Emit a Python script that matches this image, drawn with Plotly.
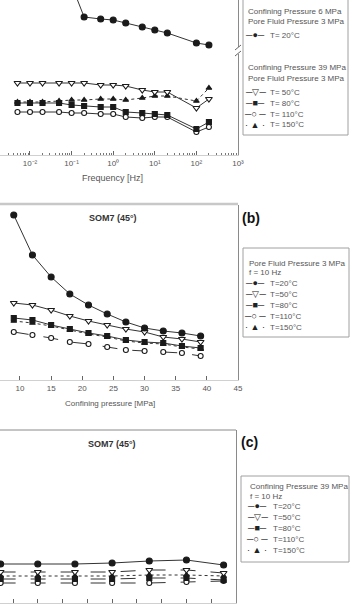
import plotly.graph_objects as go

W, H = 358, 609
FONT = "Liberation Sans, Arial, sans-serif"

# ---------------- data ----------------
# Panel (a): frequency sweep
freq = [0.005, 0.01, 0.02, 0.05, 0.1, 0.2, 0.5, 1, 2, 5, 10, 20, 100, 200]
freq_20 = [0.1, 0.2, 0.5, 1, 2, 5, 10, 20, 100, 200]
a_T20 = [17.0, 13.8, 13.6, 13.5, 13.2, 12.8, 12.5, 12.2, 11.2, 11.0]
a_T50 = [7.2, 7.2, 7.2, 7.2, 7.2, 7.2, 7.0, 7.0, 6.9, 6.5, 6.3, 6.3, 4.7, 5.6]
a_T80 = [5.2, 5.2, 5.2, 5.2, 5.0, 4.9, 4.8, 4.8, 4.3, 4.2, 4.1, 4.0, 2.6, 3.3]
a_T110 = [4.3, 4.3, 4.3, 4.3, 4.2, 4.2, 4.1, 4.1, 3.8, 3.7, 3.8, 3.8, 2.3, 2.8]
a_T150 = [5.3, 5.3, 5.3, 5.4, 5.5, 5.5, 5.6, 5.6, 5.5, 5.7, 5.9, 5.9, 5.4, 6.7]
freq_ticks = [0.01, 0.1, 1, 10, 100, 1000]
freq_ticktext = ["10⁻²", "10⁻¹", "10⁰", "10¹", "10²", "10³"]

# Panel (b): confining pressure sweep
pconf = [9, 12, 15, 18, 21, 24, 27, 30, 33, 36, 39]
b_T20 = [16.5, 12.5, 10.3, 8.6, 7.5, 6.6, 5.8, 5.2, 4.9, 4.7, 4.4]
b_T50 = [7.7, 7.5, 7.0, 6.4, 5.9, 5.5, 5.1, 4.8, 4.3, 4.1, 3.8]
b_T80 = [6.2, 6.0, 5.5, 5.1, 4.7, 4.4, 4.0, 3.8, 3.7, 3.4, 3.2]
b_T110 = [4.8, 4.5, 4.2, 3.8, 3.6, 3.3, 3.0, 2.9, 2.8, 2.7, 2.4]
b_T150 = [5.9, 5.7, 5.4, 5.0, 4.6, 4.3, 3.9, 3.7, 3.6, 3.3, 3.1]
pconf_ticks = [10, 15, 20, 25, 30, 35, 40, 45]

# Panel (c)
xc = [3, 6, 9, 12, 15, 18, 21]
c_T20 = [3.9, 3.9, 3.9, 4.0, 4.2, 4.3, 3.8]
c_T50 = [3.1, 3.1, 3.1, 3.1, 3.3, 3.3, 3.0]
c_T80 = [2.4, 2.4, 2.4, 2.4, 2.5, 2.5, 2.3]
c_T110 = [2.0, 2.0, 2.0, 2.0, 2.0, 2.1, 2.2]
c_T150 = [2.7, 2.7, 2.7, 2.7, 2.8, 2.8, 2.7]
xc_ticks = [2, 4, 6, 8, 10, 12, 14, 16, 18, 20, 22]

series_labels = ["T=20°C", "T=50°C", "T=80°C", "T=110°C", "T=150°C"]

# ---------------- helpers ----------------
def px(x):
    return x / W

def py(y):
    return 1 - y / H

STYLE = {
    "T20": dict(symbol="circle", fill="#1a1a1a", dash="solid", size=6),
    "T50": dict(symbol="triangle-down", fill="white", dash="solid", size=6),
    "T80": dict(symbol="square", fill="#1a1a1a", dash="solid", size=5),
    "T110": dict(symbol="circle", fill="white", dash="dash", size=5),
    "T150": dict(symbol="triangle-up", fill="#1a1a1a", dash="dot", size=5),
}

fig = go.Figure()

def add(x, y, key, xa, ya, dash=None):
    s = STYLE[key]
    fig.add_trace(go.Scatter(
        x=x, y=y, mode="lines+markers", xaxis=xa, yaxis=ya, showlegend=False,
        line=dict(color="#333333", width=1, dash=dash or s["dash"]),
        marker=dict(symbol=s["symbol"], size=s["size"], color=s["fill"],
                    line=dict(color="#1a1a1a", width=1.1)),
    ))

# panel a
add(freq, a_T150, "T150", "x", "y")
add(freq, a_T110, "T110", "x", "y", dash="solid")
add(freq, a_T80, "T80", "x", "y")
add(freq, a_T50, "T50", "x", "y")
add(freq_20, a_T20, "T20", "x", "y")
# panel b
add(pconf, b_T150, "T150", "x2", "y2")
add(pconf, b_T110, "T110", "x2", "y2", dash="longdash")
add(pconf, b_T80, "T80", "x2", "y2")
add(pconf, b_T50, "T50", "x2", "y2")
add(pconf, b_T20, "T20", "x2", "y2")
# panel c
add(xc, c_T150, "T150", "x3", "y3")
add(xc, c_T110, "T110", "x3", "y3", dash="longdash")
add(xc, c_T80, "T80", "x3", "y3", dash="longdash")
add(xc, c_T50, "T50", "x3", "y3", dash="longdash")
add(xc, c_T20, "T20", "x3", "y3")

tickfont = dict(family=FONT, size=8, color="#555555")
minor_log = [m * 10 ** d for d in range(-3, 3) for m in range(2, 10)]

common_x = dict(showgrid=False, zeroline=False, showline=True, linecolor="#d0d0d0",
                linewidth=1, ticks="inside", tickcolor="#666666", tickwidth=1,
                tickfont=tickfont, ticklen=4)
common_y = dict(showgrid=False, zeroline=False, showline=True, linecolor="#8a8a8a",
                linewidth=1, side="right", ticks="", showticklabels=False)

fig.update_layout(
    width=W, height=H,
    margin=dict(l=0, r=0, t=0, b=0, autoexpand=False),
    paper_bgcolor="white", plot_bgcolor="white",
    font=dict(family=FONT, color="#555555"),
    xaxis=dict(common_x, type="log", range=[-2.721, 3.0], domain=[0, px(238)],
               anchor="y", tickvals=freq_ticks, ticktext=freq_ticktext,
               minor=dict(tickvals=minor_log, ticks="inside", ticklen=2,
                          tickcolor="#777777")),
    yaxis=dict(common_y, range=[0, 15.5], domain=[py(155), 1], anchor="x"),
    xaxis2=dict(common_x, range=[6.79, 45], domain=[0, px(238)], anchor="y2",
                tickvals=pconf_ticks),
    yaxis2=dict(common_y, range=[0, 17.5], domain=[py(380), py(205)], anchor="x2"),
    xaxis3=dict(common_x, range=[2.95, 22.0], domain=[0, px(236)], anchor="y3",
                tickvals=xc_ticks, showticklabels=False),
    yaxis3=dict(common_y, range=[0, 17.3], domain=[py(603), py(430)], anchor="x3"),
)

shapes = []
# top borders of panels b and c
shapes.append(dict(type="line", xref="paper", yref="paper", x0=0, x1=px(238),
                   y0=py(204), y1=py(204), line=dict(color="#c8c8c8", width=2.5)))
shapes.append(dict(type="line", xref="paper", yref="paper", x0=0, x1=px(236),
                   y0=py(430), y1=py(430), line=dict(color="#8a8a8a", width=1)))
# axis break on panel (a)
shapes.append(dict(type="rect", xref="paper", yref="paper", x0=px(235), x1=px(241),
                   y0=py(54), y1=py(47), fillcolor="white", line=dict(width=0)))
shapes.append(dict(type="line", xref="paper", yref="paper", x0=px(235), x1=px(241),
                   y0=py(50), y1=py(45), line=dict(color="#666666", width=1)))
shapes.append(dict(type="line", xref="paper", yref="paper", x0=px(235), x1=px(241),
                   y0=py(56), y1=py(51), line=dict(color="#666666", width=1)))
# legend boxes
for (x0, x1, y0, y1) in [(243, 348, -5, 135), (243, 349, 248, 337), (241, 349, 476, 562)]:
    shapes.append(dict(type="rect", xref="paper", yref="paper", x0=px(x0), x1=px(x1),
                       y0=py(y1), y1=py(y0), line=dict(color="#a0a0a0", width=1),
                       fillcolor="rgba(0,0,0,0)"))
fig.update_layout(shapes=shapes)

ann = []

def text(x, y, s, size=8, color="#555555", xanchor="left", bold=False):
    if bold:
        s = "<b>" + s + "</b>"
    ann.append(dict(x=px(x), y=py(y), xref="paper", yref="paper", text=s,
                    showarrow=False, xanchor=xanchor, yanchor="middle",
                    font=dict(family=FONT, size=size, color=color)))

SYM = {"T20": "─●─", "T50": "─▽─", "T80": "─■─", "T110": "─○ ─", "T150": "· ▲ ·"}
keys = ["T20", "T50", "T80", "T110", "T150"]

# axis titles / panel titles
text(112, 178, "Frequency [Hz]", size=9, xanchor="center")
text(110, 403, "Confining pressure [MPa]", size=8, xanchor="center")
text(113, 218, "SOM7 (45°)", size=9, color="#333333", xanchor="center", bold=True)
text(112, 444, "SOM7 (45°)", size=9, color="#333333", xanchor="center", bold=True)
text(240, 218, "(b)", size=14, color="#111111", bold=True)
text(239, 442, "(c)", size=14, color="#111111", bold=True)

# legend (a)
text(246, 12, "Confining Pressure 6 MPa", size=8)
text(246, 22, "Pore Fluid Pressure 3 MPa", size=8)
text(255, 35, SYM["T20"], size=9, color="#222222", xanchor="center")
text(268, 35, "T= 20°C", size=8)
text(246, 68, "Confining Pressure 39 MPa", size=8)
text(246, 78, "Pore Fluid Pressure 3 MPa", size=8)
for k, yy, lab in zip(keys[1:], [92, 103, 114, 125], ["T= 50°C", "T= 80°C", "T= 110°C", "T= 150°C"]):
    text(255, yy, SYM[k], size=9, color="#222222", xanchor="center")
    text(268, yy, lab, size=8)

# legend (b)
text(247, 263, "Pore Fluid Pressure 3 MPa", size=8)
text(247, 272, "f = 10 Hz", size=8)
for k, yy, lab in zip(keys, [283, 294, 305, 316, 327], series_labels):
    text(255, yy, SYM[k], size=9, color="#222222", xanchor="center")
    text(268, yy, lab, size=8)

# legend (c)
text(248, 486, "Confining Pressure 39 MPa", size=8)
text(248, 496, "f = 10 Hz", size=8)
for k, yy, lab in zip(keys, [506, 517, 528, 539, 550], series_labels):
    text(257, yy, SYM[k], size=9, color="#222222", xanchor="center")
    text(271, yy, lab, size=8)

fig.update_layout(annotations=ann)
fig.write_html("out.html")
